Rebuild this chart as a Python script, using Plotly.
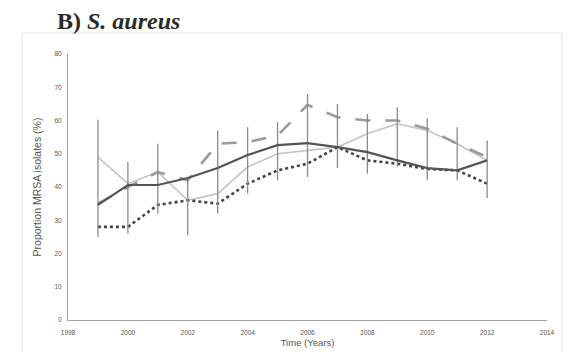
import plotly.graph_objects as go

years = list(range(1999, 2013))

dark_solid = [34.6, 40.6, 40.6, 42.7, 45.7, 49.6, 52.6, 53.2, 52.0, 50.5, 48.0, 45.7, 45.0, 48.0]
err_upper = [60.2, 47.5, 53.0, 43.0, 57.0, 58.0, 59.5, 68.0, 65.0, 62.0, 64.0, 60.7, 58.0, 54.0]
err_lower = [25.0, 26.0, 32.0, 25.5, 32.0, 38.0, 42.0, 43.0, 45.7, 44.0, 46.0, 42.0, 42.0, 36.7]

long_dash = [35.0, 40.0, 44.5, 42.0, 53.0, 53.5, 55.5, 64.7, 61.0, 60.0, 60.0, 57.5, 53.0, 49.0]
dotted = [28.0, 28.0, 34.6, 36.0, 35.0, 41.0, 45.0, 47.0, 52.0, 48.0, 47.0, 45.4, 45.0, 41.0]
light_solid = [49.0, 41.0, 44.5, 36.0, 38.0, 46.0, 50.0, 51.0, 52.0, 56.0, 59.0, 57.0, 53.0, 48.0]

x_ticks = list(range(1998, 2015, 2))
y_ticks = list(range(0, 81, 10))

err_plus = [u - v for u, v in zip(err_upper, dark_solid)]
err_minus = [v - l for v, l in zip(dark_solid, err_lower)]

fig = go.Figure()

fig.add_trace(go.Scatter(
    x=years, y=light_solid, mode="lines",
    line=dict(color="#c4c4c4", width=1.6), showlegend=False))
fig.add_trace(go.Scatter(
    x=years, y=long_dash, mode="lines",
    line=dict(color="#9a9a9a", width=2.6, dash="longdash"), showlegend=False))
fig.add_trace(go.Scatter(
    x=years, y=dotted, mode="lines",
    line=dict(color="#444444", width=2.6, dash="dot"), showlegend=False))
fig.add_trace(go.Scatter(
    x=years, y=dark_solid, mode="lines",
    line=dict(color="#555555", width=2.2),
    error_y=dict(type="data", symmetric=False, array=err_plus, arrayminus=err_minus,
                 color="#8a8a8a", thickness=1.3, width=0),
    showlegend=False))

fig.add_shape(type="rect", xref="paper", yref="paper",
              x0=-0.096, x1=1.031, y0=-0.14, y1=1.079,
              line=dict(color="#e2e2e2", width=1), fillcolor="rgba(0,0,0,0)", layer="below")

fig.update_layout(
    width=582, height=352,
    margin=dict(l=68, r=35, t=54, b=32),
    paper_bgcolor="white", plot_bgcolor="white",
    title=dict(text="<b>B) <i>S. aureus</i></b>", x=57/582, xanchor="left",
               y=1 - 21/352, yanchor="middle",
               font=dict(family="Liberation Serif, Times New Roman, serif", size=24,
                         color="#2a2a2a")),
    xaxis=dict(range=[1998, 2014], tickvals=x_ticks, ticktext=[str(t) for t in x_ticks],
               showgrid=False, zeroline=False, showline=True, linecolor="#a0a0a0", linewidth=1,
               ticks="", ticklabelstandoff=6, automargin=False,
               tickfont=dict(family="Liberation Sans", size=6.5, color="#555555"),
               title=dict(text="Time (Years)", standoff=4,
                          font=dict(family="Liberation Sans", size=9.5, color="#555555"))),
    yaxis=dict(range=[0, 80], tickvals=y_ticks, showgrid=False, zeroline=False,
               showline=True, linecolor="#a0a0a0", linewidth=1, ticks="", ticklabelstandoff=4,
               automargin=False,
               tickfont=dict(family="Liberation Sans", size=6.5, color="#555555"),
               title=dict(text="Proportion MRSA isolates (%)", standoff=10,
                          font=dict(family="Liberation Sans", size=10.5, color="#555555"))),
)

fig.write_html("out.html", config={"displayModeBar": False},
               post_script="document.body.style.margin='0';")
